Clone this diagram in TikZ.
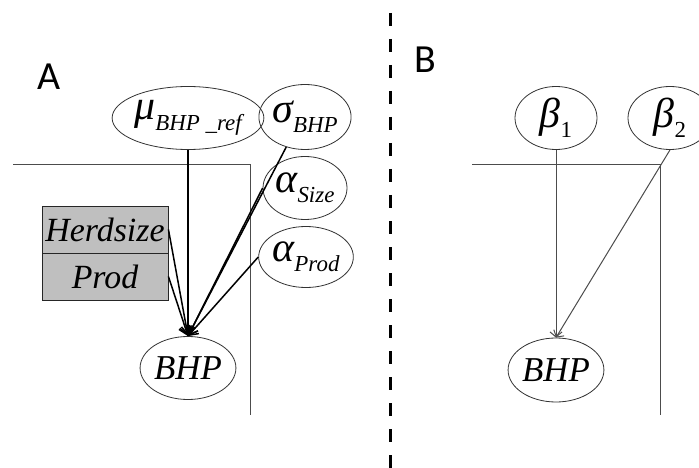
\documentclass[tikz,border=0pt]{standalone}
\usepackage{fontspec}
\setmainfont{Liberation Serif}
\newfontfamily\lblfont{Carlito}
\usetikzlibrary{shapes.geometric,arrows.meta}
\newcommand{\mysub}[1]{\raisebox{-0.3em}{\fontsize{23}{25}\selectfont #1}}
\newcommand{\gk}[1]{{\fontsize{42}{44}\selectfont\itshape #1}}
\begin{document}
\begin{tikzpicture}[x=1bp,y=-1bp,
  ell/.style={draw=black!80, ellipse, inner sep=0pt, line width=0.8bp,
    font=\fontsize{35}{37}\selectfont\itshape},
  boxcell/.style={draw=black!85, fill=black!25, line width=0.9bp, inner sep=0pt,
    minimum width=126bp, minimum height=47bp,
    font=\fontsize{34}{36}\selectfont\itshape},
  plate/.style={draw=black!70, line width=0.9bp},
  arrA/.style={draw=black, line width=1.5bp, -{Straight Barb[length=8bp,width=13bp,line width=1.5bp]}},
  arrB/.style={draw=black!70, line width=1bp, -{Straight Barb[length=5bp,width=12bp]}},
  lbl/.style={font=\lblfont\fontsize{40}{42}\selectfont}
]
\useasboundingbox (0,0) rectangle (699,468);
\fill[white] (0,0) rectangle (699,468);

% divider
\draw[line width=3bp, dash pattern=on 13bp off 13bp] (390,13) -- (390,468);

% labels
\node[lbl] (labA) at (49,77) {A};
\node[lbl] (labB) at (425,60) {B};

% ---------- Panel A ----------
\draw[plate] (13,164) -- (250,164) -- (250,415);

\node[ell, minimum width=137bp, minimum height=63bp] (mu) at (188,118)
  {\gk{μ}\mysub{BHP \_ref}};
\node[ell, minimum width=80bp, minimum height=65bp] (sig) at (305,117)
  {\gk{σ}\mysub{BHP}};
\node[ell, minimum width=84bp, minimum height=63bp] (asize) at (305,188)
  {\gk{α}\mysub{Size}};
\node[ell, minimum width=87bp, minimum height=61bp] (aprod) at (306,257)
  {\gk{α}\mysub{Prod}};
\node[ell, minimum width=87bp, minimum height=63bp] (bhpA) at (188,368) {BHP};

\node[boxcell] (herd) at (105,229.5) {Herdsize};
\node[boxcell] (prod) at (105,276.5) {Prod};

\draw[arrA] (mu.south) -- (bhpA.north);
\draw[arrA] (sig.238) -- (bhpA.north);
\draw[arrA] (asize.west) -- (bhpA.north);
\draw[arrA] (aprod.west) -- (bhpA.north);
\draw[arrA] (herd.east) -- (bhpA.north);
\draw[arrA] (prod.east) -- (bhpA.north);

% ---------- Panel B ----------
\draw[plate] (472,164) -- (660,164) -- (660,415);

\node[ell, minimum width=82bp, minimum height=63bp] (b1) at (556,118)
  {\gk{β}\mysub{\upshape 1}};
\node[ell, minimum width=84bp, minimum height=63bp] (b2) at (670,118)
  {\gk{β}\mysub{\upshape 2}};
\node[ell, minimum width=88bp, minimum height=64bp] (bhpB) at (556,370) {BHP};

\draw[arrB] (b1.south) -- (bhpB.north);
\draw[arrB] (b2.south) -- (bhpB.north);
\end{tikzpicture}
\end{document}
